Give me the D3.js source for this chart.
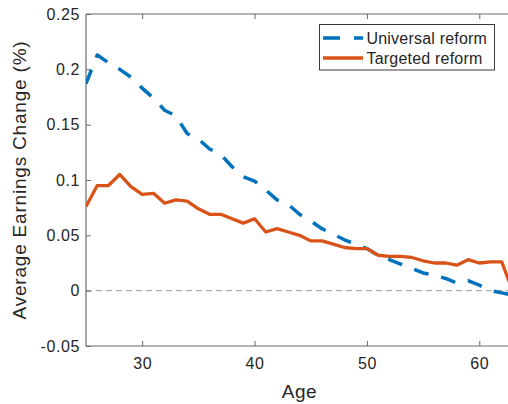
<!DOCTYPE html>
<html>
<head>
<meta charset="utf-8">
<script src="https://cdn.jsdelivr.net/npm/d3@7"></script>
<style>
  html, body { margin: 0; padding: 0; background: #fff; }
  svg { display: block; }
  text { font-family: "Liberation Sans", Arial, Helvetica, sans-serif; fill: #262626; }
</style>
</head>
<body>
<svg id="chart" width="508" height="404"></svg>
<script>
// Age grid
const ages = d3.range(25, 64);

// Average earnings change (%) by age
const universal = [
  0.187, 0.213, 0.206, 0.200, 0.193, 0.183, 0.174, 0.163, 0.158, 0.142,
  0.137, 0.128, 0.123, 0.112, 0.103, 0.099, 0.091, 0.082, 0.078, 0.069,
  0.063, 0.056, 0.051, 0.046, 0.042, 0.038, 0.032, 0.028, 0.024, 0.020,
  0.016, 0.014, 0.011, 0.007, 0.009, 0.005, 0.000, -0.002, -0.004
];
const targeted = [
  0.076, 0.095, 0.095, 0.105, 0.094, 0.087, 0.088, 0.079, 0.082, 0.081,
  0.074, 0.069, 0.069, 0.065, 0.061, 0.065, 0.053, 0.056, 0.053, 0.050,
  0.045, 0.045, 0.042, 0.039, 0.038, 0.038, 0.032, 0.031, 0.031, 0.030,
  0.027, 0.025, 0.025, 0.023, 0.028, 0.025, 0.026, 0.026, -0.001
];

const seriesNames = ["Universal reform", "Targeted reform"];
const xTicks = [30, 40, 50, 60];
const yTicks = [-0.05, 0, 0.05, 0.1, 0.15, 0.2, 0.25];
const yTickLabels = ["-0.05", "0", "0.05", "0.1", "0.15", "0.2", "0.25"];

const blue = "#0072BD", orange = "#D95319", axisColor = "#6a6a6a";

const svg = d3.select("#chart");
const L = 86, R = 513, T = 14, B = 346;

const x = d3.scaleLinear().domain([25, 63]).range([L, R]);
const y = d3.scaleLinear().domain([-0.05, 0.25]).range([B, T]);

// clip region for the data lines
svg.append("defs").append("clipPath").attr("id", "plotClip")
  .append("rect").attr("x", L).attr("y", T).attr("width", R - L).attr("height", B - T);

// zero reference line
svg.append("line")
  .attr("x1", L).attr("x2", R)
  .attr("y1", y(0)).attr("y2", y(0))
  .attr("stroke", "#9a9a9a").attr("stroke-width", 1)
  .attr("stroke-dasharray", "6,4");

// axes: bottom/left with labels, top/right with inward ticks only
const tickLen = 5;
const bottomAxis = d3.axisBottom(x).tickValues(xTicks).tickSize(-tickLen).tickPadding(12).tickFormat(d3.format("d"));
const topAxis = d3.axisTop(x).tickValues(xTicks).tickSize(-tickLen).tickFormat("");
const leftAxis = d3.axisLeft(y).tickValues(yTicks).tickSize(-tickLen).tickPadding(6)
  .tickFormat((d, i) => yTickLabels[i]);
const rightAxis = d3.axisRight(y).tickValues(yTicks).tickSize(-tickLen).tickFormat("");

function styleAxis(g) {
  g.select(".domain").attr("stroke", axisColor).attr("stroke-width", 1.2);
  g.selectAll(".tick line").attr("stroke", axisColor).attr("stroke-width", 1);
  g.selectAll(".tick text")
    .attr("fill", "#262626")
    .style("font-family", '"Liberation Sans", Arial, sans-serif')
    .style("font-size", "16px")
    .style("letter-spacing", "0.6px");
}

svg.append("g").attr("transform", `translate(0,${B})`).call(bottomAxis).call(styleAxis)
  .call(g => g.select(".domain").attr("d", `M${L},0H${R}`));
svg.append("g").attr("transform", `translate(0,${T})`).call(topAxis).call(styleAxis)
  .call(g => g.select(".domain").attr("d", `M${L},0H${R}`));
svg.append("g").attr("transform", `translate(${L},0)`).call(leftAxis).call(styleAxis)
  .call(g => g.select(".domain").attr("d", `M0,${B}V${T}`));
svg.append("g").attr("transform", `translate(${R},0)`).call(rightAxis).call(styleAxis)
  .call(g => g.select(".domain").attr("d", `M0,${B}V${T}`));

// data lines
const line = d3.line().x((d, i) => x(ages[i])).y(d => y(d));
const plot = svg.append("g").attr("clip-path", "url(#plotClip)");

plot.append("path").datum(universal)
  .attr("d", line)
  .attr("fill", "none").attr("stroke", blue).attr("stroke-width", 3.5)
  .attr("stroke-dasharray", "15,13").attr("stroke-linejoin", "round");

plot.append("path").datum(targeted)
  .attr("d", line)
  .attr("fill", "none").attr("stroke", orange).attr("stroke-width", 3.3)
  .attr("stroke-linejoin", "round");

// axis titles
svg.append("text")
  .attr("x", (L + R) / 2).attr("y", 398)
  .attr("text-anchor", "middle")
  .style("font-size", "19px").style("letter-spacing", "0.5px")
  .text("Age");

svg.append("text")
  .attr("transform", `translate(26,${(T + B) / 2}) rotate(-90)`)
  .attr("text-anchor", "middle")
  .style("font-size", "19px").style("letter-spacing", "0.8px")
  .text("Average Earnings Change (%)");

// legend
const lg = svg.append("g");
lg.append("rect")
  .attr("x", 319.5).attr("y", 24.5).attr("width", 175).attr("height", 45.5)
  .attr("fill", "#fff").attr("stroke", "#3a3a3a").attr("stroke-width", 1);

const legendItems = [
  { name: seriesNames[0], color: blue, dash: "17,14" },
  { name: seriesNames[1], color: orange, dash: null }
];
legendItems.forEach((it, i) => {
  const ly = 38 + i * 20;
  lg.append("line")
    .attr("x1", 323).attr("x2", 363).attr("y1", ly).attr("y2", ly)
    .attr("stroke", it.color).attr("stroke-width", 3.5)
    .attr("stroke-dasharray", it.dash);
  lg.append("text")
    .attr("x", 366.5).attr("y", ly).attr("dy", "0.36em")
    .style("font-size", "16px").style("letter-spacing", "0.2px")
    .text(it.name);
});
</script>
</body>
</html>
